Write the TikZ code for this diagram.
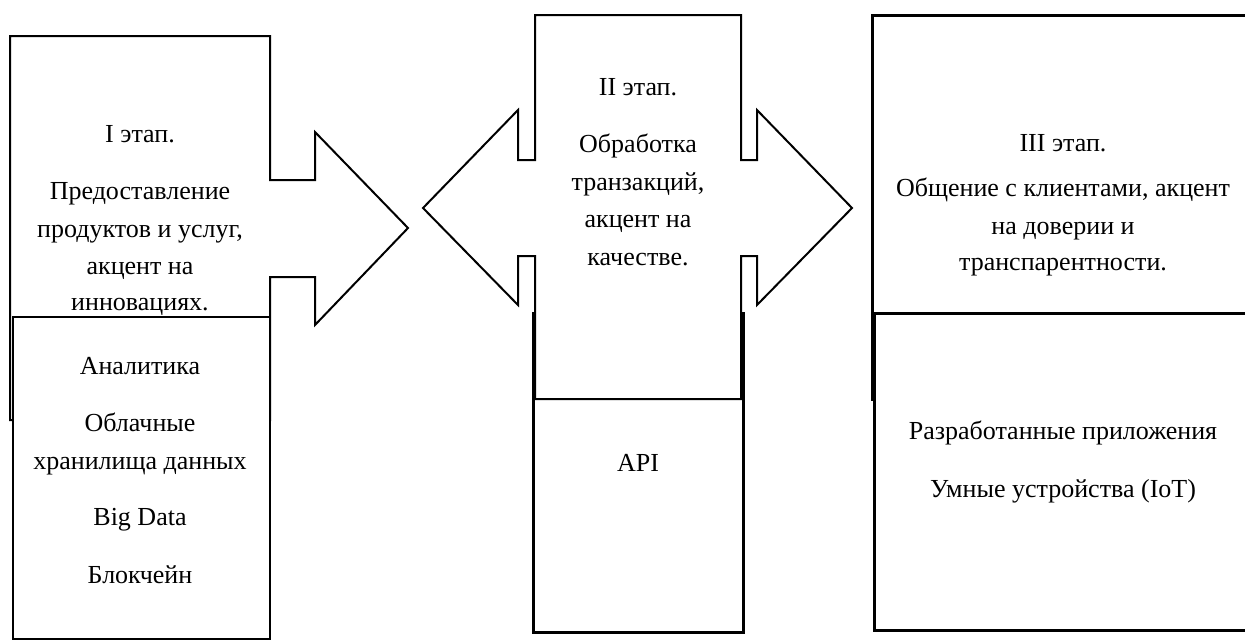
\documentclass[tikz,border=0pt]{standalone}
\usepackage{fontspec}
\setmainfont{Liberation Serif}
\begin{document}
\begin{tikzpicture}[x=1pt,y=-1pt,
  shapebox/.style={draw=black, fill=white, line width=2pt, line join=miter},
  heavybox/.style={draw=black, fill=white, line width=3pt, line join=miter},
  txt/.style={font=\fontsize{26}{37}\selectfont, anchor=base, inner sep=0pt, text=black}]
\useasboundingbox (0,0) rectangle (1245,641);
\clip (0,0) rectangle (1245,641);
\fill[white] (0,0) rectangle (1245,641);

% ---------- Stage I ----------
\draw[shapebox] (10,36) -- (270,36) -- (270,180) -- (315,180) -- (315,132) -- (408,228)
  -- (315,325) -- (315,277) -- (270,277) -- (270,420) -- (10,420) -- cycle;
\node[txt] (s1t) at (140,142) {I этап.};
\node[txt] (s1a) at (140,199) {Предоставление};
\node[txt] (s1b) at (140,237) {продуктов и услуг,};
\node[txt] (s1c) at (140,274) {акцент на};
\node[txt] (s1d) at (140,310) {инновациях.};

\draw[shapebox, line width=2.5pt] (13,317) rectangle (270,639);
\node[txt] (l1a) at (140,374) {Аналитика};
\node[txt] (l1b) at (140,431) {Облачные};
\node[txt] (l1c) at (140,469) {хранилища данных};
\node[txt] (l1d) at (140,525) {Big Data};
\node[txt] (l1e) at (140,583) {Блокчейн};

% ---------- Stage II ----------
\draw[heavybox] (533,313) rectangle (743,632);
\draw[shapebox] (535,15) -- (741,15) -- (741,160) -- (757,160) -- (757,110) -- (852,208)
  -- (757,305) -- (757,256) -- (741,256) -- (741,399) -- (535,399) -- (535,256)
  -- (518,256) -- (518,305) -- (423,208) -- (518,110) -- (518,160) -- (535,160) -- cycle;
\node[txt] (s2t) at (638,95) {II этап.};
\node[txt] (s2a) at (638,152) {Обработка};
\node[txt] (s2b) at (638,190) {транзакций,};
\node[txt] (s2c) at (638,227) {акцент на};
\node[txt] (s2d) at (638,265) {качестве.};
\node[txt] (api) at (638,471) {API};

% ---------- Stage III ----------
\draw[heavybox] (872,15) rectangle (1255,399);
\node[txt] (s3t) at (1063,151) {III этап.};
\node[txt] (s3a) at (1063,196) {Общение с клиентами, акцент};
\node[txt] (s3b) at (1063,234) {на доверии и};
\node[txt] (s3c) at (1063,270) {транспарентности.};

\draw[heavybox] (874,313) rectangle (1255,630);
\node[txt] (l3a) at (1063,439) {Разработанные приложения};
\node[txt] (l3b) at (1063,497) {Умные устройства (IoT)};
\end{tikzpicture}
\end{document}
